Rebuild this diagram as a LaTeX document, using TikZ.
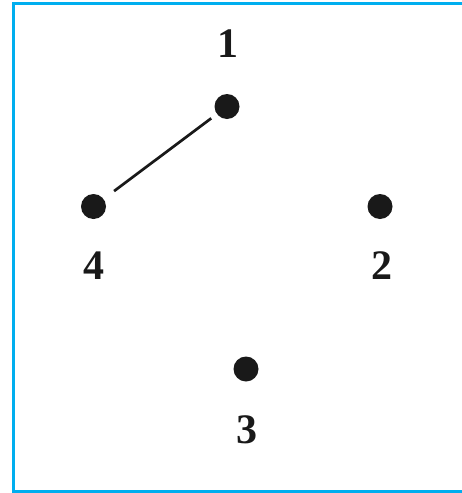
\documentclass[tikz,border=0pt]{standalone}
\usepackage{fontspec}
\setmainfont{Liberation Serif}
\usetikzlibrary{positioning}
\definecolor{framecyan}{RGB}{0,174,239}
\tikzset{
    dot/.style={circle, fill=black!90, inner sep=0pt, minimum size=25pt},
    num/.style={font=\fontsize{42}{42}\selectfont\bfseries, text=black!90, inner sep=0pt},
    edge/.style={line width=2.7pt, draw=black!90},
    frame/.style={line width=3pt, draw=framecyan}
}
\begin{document}
\begin{tikzpicture}[x=1pt, y=-1pt]
        \useasboundingbox (0,0) rectangle (462,493);

        % cornice (aperta a destra)
        \draw [frame] (462,3.3) -- (13.5,3.3) -- (13.5,491) -- (462,491);

        % punti
        \node (d1) [dot] at (227,106.5) {};
        \node (d2) [dot] at (380,206.5) {};
        \node (d3) [dot] at (246,369) {};
        \node (d4) [dot] at (93.5,206.5) {};

        % etichette
        \node (n1) [num] at (228,44) {1};
        \node (n2) [num] at (382,266) {2};
        \node (n3) [num] at (247,430) {3};
        \node (n4) [num] at (94,266) {4};

        % lato
        \draw [edge, shorten <=13pt, shorten >=7pt] (d4) -- (d1);

    \end{tikzpicture}
\end{document}
